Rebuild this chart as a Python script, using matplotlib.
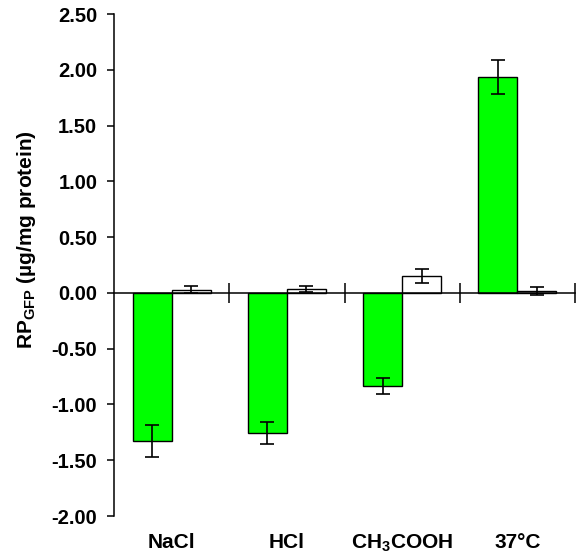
import matplotlib
matplotlib.use("Agg")
import matplotlib.pyplot as plt
import matplotlib.transforms as mtransforms
import numpy as np

plt.rcParams['font.family'] = ['Liberation Sans', 'DejaVu Sans']
plt.rcParams['font.weight'] = 'bold'
plt.rcParams['mathtext.fontset'] = 'custom'
plt.rcParams['mathtext.rm'] = 'Liberation Sans:bold'
plt.rcParams['mathtext.bf'] = 'Liberation Sans:bold'
plt.rcParams['mathtext.it'] = 'Liberation Sans:bold'
plt.rcParams['mathtext.default'] = 'rm'

categories = ['NaCl', 'HCl', 'CH$_3$COOH', '37°C']
green_vals = [-1.325, -1.253, -0.835, 1.935]
green_err = [0.143, 0.10, 0.07, 0.15]
white_vals = [0.03, 0.035, 0.15, 0.015]
white_err = [0.035, 0.024, 0.06, 0.035]
yticks = [2.5, 2.0, 1.5, 1.0, 0.5, 0.0, -0.5, -1.0, -1.5, -2.0]

fig = plt.figure(figsize=(5.8, 5.56), dpi=100)
ax = fig.add_axes([114/580, 1-516/556, (575-114)/580, (516-14)/556])

x = np.arange(len(categories)) + 0.5
w = 0.338
ekw = dict(elinewidth=1.2, capthick=1.2, ecolor='black')
ax.bar(x - w/2, green_vals, width=w, color='#00ff00', edgecolor='black',
       linewidth=1.0, yerr=green_err, capsize=5, error_kw=ekw, zorder=2)
ax.bar(x + w/2, white_vals, width=w, color='white', edgecolor='black',
       linewidth=1.0, yerr=white_err, capsize=5, error_kw=ekw, zorder=2)

ax.set_xlim(0, 4)
ax.set_ylim(-2.0, 2.5)
ax.spines['top'].set_visible(False)
ax.spines['right'].set_visible(False)
ax.spines['bottom'].set_position(('data', 0))
ax.spines['left'].set_bounds(-2.0, 2.5)
for s in ('left', 'bottom'):
    ax.spines[s].set_linewidth(1.1)

ax.set_yticks(yticks)
ax.set_yticklabels([f'{v:.2f}' for v in yticks], fontsize=14.5, fontweight='bold')
ax.tick_params(axis='y', direction='out', length=5, width=1.1, pad=7)
ax.set_xticks([1, 2, 3, 4])
ax.set_xticklabels([])
ax.tick_params(axis='x', direction='inout', length=14, width=1.1)

trans = mtransforms.blended_transform_factory(ax.transData, fig.transFigure)
for xi, c in zip(x, categories):
    ax.text(xi, 1-543/556, c, transform=trans, ha='center', va='center',
            fontsize=15, fontweight='bold')

fig.text(27/580, 1-240/556, 'RP$_{\\mathregular{GFP}}$ (µg/mg protein)', rotation=90,
         ha='center', va='center', fontsize=15, fontweight='bold')

fig.savefig('out.png', dpi=100)
